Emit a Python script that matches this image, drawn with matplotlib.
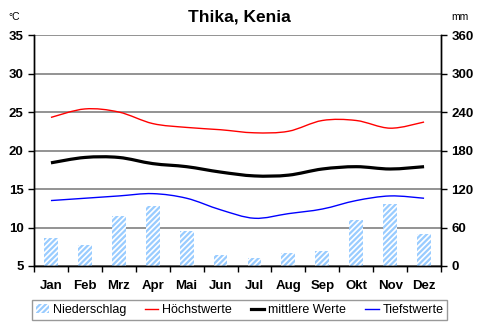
import matplotlib
matplotlib.use("Agg")
import matplotlib.pyplot as plt
from matplotlib.path import Path
from matplotlib.patches import PathPatch, Patch
from matplotlib.lines import Line2D
import numpy as np

# Climate data for Thika, Kenia
months = ["Jan", "Feb", "Mrz", "Apr", "Mai", "Jun", "Jul", "Aug", "Sep", "Okt", "Nov", "Dez"]
precip = [44, 33, 78, 94, 55, 17, 13, 21, 24, 71, 97, 50]
t_max = [24.3, 25.4, 25.0, 23.5, 23.0, 22.7, 22.3, 22.5, 23.9, 23.9, 22.9, 23.7]
t_mean = [18.4, 19.1, 19.1, 18.3, 17.9, 17.2, 16.7, 16.8, 17.6, 17.9, 17.6, 17.9]
t_min = [13.5, 13.8, 14.1, 14.4, 13.8, 12.3, 11.2, 11.8, 12.4, 13.5, 14.1, 13.8]

plt.rcParams['font.family'] = ['Liberation Sans', 'DejaVu Sans']
plt.rcParams['hatch.linewidth'] = 1.6


def smooth_patch(x, y, color, lw, tension=1 / 6):
    """Excel-like smoothed line as a Bezier path through the data points."""
    x = np.asarray(x, float)
    y = np.asarray(y, float)
    n = len(x)
    verts = [(x[0], y[0])]
    codes = [Path.MOVETO]
    for i in range(n - 1):
        p0 = np.array([x[max(i - 1, 0)], y[max(i - 1, 0)]])
        p1 = np.array([x[i], y[i]])
        p2 = np.array([x[i + 1], y[i + 1]])
        p3 = np.array([x[min(i + 2, n - 1)], y[min(i + 2, n - 1)]])
        c1 = p1 + (p2 - p0) * tension
        c2 = p2 - (p3 - p1) * tension
        verts += [tuple(c1), tuple(c2), tuple(p2)]
        codes += [Path.CURVE4] * 3
    return PathPatch(Path(verts, codes), fill=False, edgecolor=color, lw=lw,
                     capstyle='butt', joinstyle='round')


fig = plt.figure(figsize=(4.82, 3.29), dpi=100)
ax2 = fig.add_axes([0.0705, 0.1915, 0.8445, 0.702])
ax = ax2.twinx()
ax.set_zorder(ax2.get_zorder() + 1)
ax.patch.set_visible(False)

x = np.arange(len(months))

# precipitation bars on the right axis
ax2.bar(x, precip, width=0.41, facecolor='white', edgecolor='#99CCFF',
        hatch='//////', linewidth=0, zorder=2)
ax2.set_ylim(0, 360)
ax2.set_yticks(np.arange(0, 361, 60))
ax2.grid(axis='y', color='#808080', lw=1.2, zorder=0)
ax2.set_axisbelow(True)
ax2.yaxis.tick_right()
ax2.set_xlim(-0.5, 11.5)

# temperature lines on the left axis
ax.set_ylim(5, 35)
ax.set_yticks(np.arange(5, 36, 5))
ax.yaxis.tick_left()
ax.add_patch(smooth_patch(x, t_max, 'red', 1.0))
ax.add_patch(smooth_patch(x, t_mean, 'black', 2.3))
ax.add_patch(smooth_patch(x, t_min, 'blue', 1.0))

for a in (ax, ax2):
    a.spines['top'].set_visible(False)
    a.spines['left'].set_linewidth(1.0)
    a.spines['right'].set_linewidth(1.0)
    a.spines['bottom'].set_linewidth(1.0)
    a.tick_params(axis='y', length=4.5, width=1, labelsize=9.5, pad=3)
    for lab in a.get_yticklabels():
        lab.set_fontweight('bold')

# month labels with ticks between the months
ax2.set_xticks(np.arange(-0.5, 12, 1))
ax2.set_xticklabels([])
ax2.set_xticks(x, minor=True)
ax2.set_xticklabels(months, minor=True, fontweight='bold', fontsize=9.5)
ax2.tick_params(axis='x', which='major', length=4.5, width=1)
ax2.tick_params(axis='x', which='minor', length=0, pad=10)
ax.tick_params(axis='x', bottom=False, labelbottom=False)

fig.text(0.497, 0.947, "Thika, Kenia", ha='center', va='center', fontsize=12.5, fontweight='bold')
fig.text(0.017, 0.948, "°C", ha='left', va='center', fontsize=7.5)
fig.text(0.972, 0.948, "mm", ha='right', va='center', fontsize=7.5)

handles = [
    Patch(facecolor='white', edgecolor='#99CCFF', hatch='//////', linewidth=0),
    Line2D([], [], color='red', lw=1.0),
    Line2D([], [], color='black', lw=2.3),
    Line2D([], [], color='blue', lw=1.0),
]
labels = ["Niederschlag", "Höchstwerte", "mittlere Werte", "Tiefstwerte"]
leg = fig.legend(handles, labels, loc='center', bbox_to_anchor=(0.497, 0.058), ncol=4,
                 fontsize=9, frameon=True, fancybox=False, handlelength=1.05,
                 handletextpad=0.3, columnspacing=1.55, borderpad=0.3)
leg.get_frame().set_edgecolor('#808080')
leg.get_frame().set_linewidth(1.0)

fig.savefig("out.png", dpi=100)
